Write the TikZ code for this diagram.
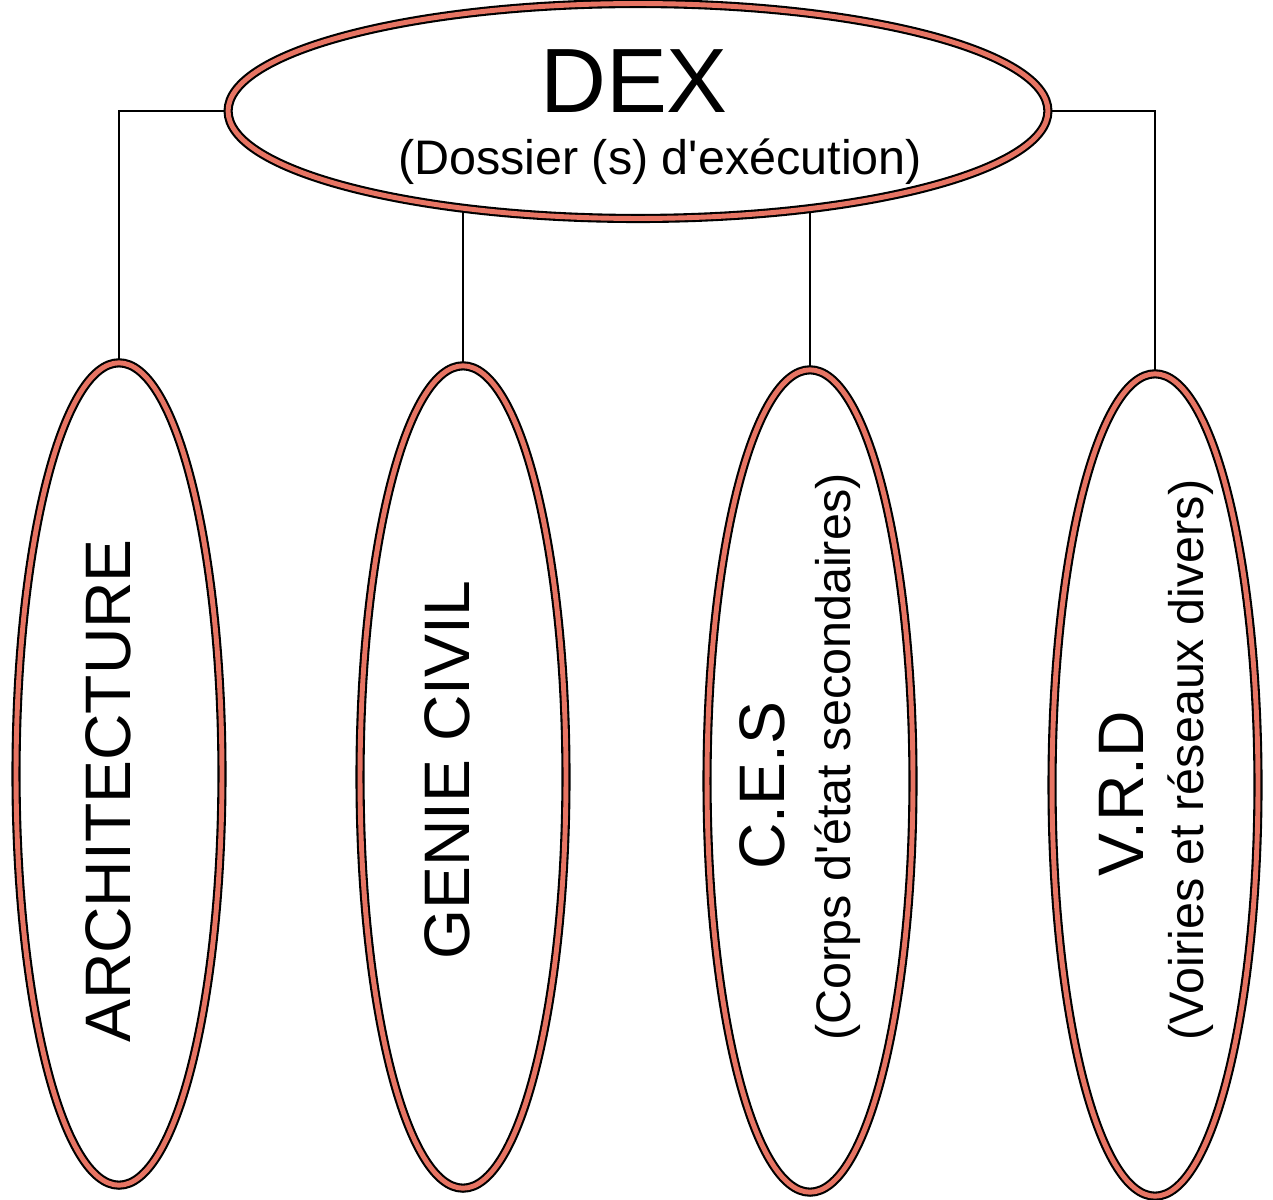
\documentclass[tikz,border=0pt]{standalone}
\usepackage{fontspec}
\newfontfamily\arialfont{Liberation Sans}
\usetikzlibrary{shapes.geometric,backgrounds}
\definecolor{ringred}{RGB}{231,116,99}

\begin{document}
\begin{tikzpicture}[x=0.02cm,y=-0.02cm,
    ring/.style={ellipse,draw=black,line width=1.2pt,double=ringred,double distance=2.8pt,fill=white,inner sep=0pt},
    branch/.style={ring,minimum width=4.12cm,minimum height=16.45cm},
    bigtxt/.style={rotate=90,inner sep=0pt,font=\arialfont\fontsize{36.6}{40}\selectfont},
    subtxt/.style={inner sep=0pt,font=\arialfont\fontsize{27.6}{31}\selectfont},
    link/.style={line width=0.9pt}]
            \useasboundingbox (0,0) rectangle (1273,1199);

            % top
            \node[ring,minimum width=16.4cm,minimum height=4.3cm] (dex) at (638,111) {};
            \node[inner sep=0pt,font=\arialfont\fontsize{52}{56}\selectfont] (dextxt) at (634,81) {DEX};
            \node[subtxt] (dexsub) at (660,162) {(Dossier (s) d'exécution)};

            % branches
            \node[branch] (archi) at (119,774) {};
            \node[branch] (genie) at (463,777) {};
            \node[branch] (ces) at (810,781) {};
            \node[branch] (vrd) at (1155,785) {};

            \node[bigtxt] (architxt) at (108,791) {ARCHITECTURE};
            \node[bigtxt] (genietxt) at (447,770) {GENIE CIVIL};
            \node[bigtxt] (cestxt) at (762,786) {C.E.S};
            \node[subtxt,rotate=90] (cessub) at (838,757) {(Corps d'état secondaires)};
            \node[bigtxt] (vrdtxt) at (1121,794) {V.R.D};
            \node[subtxt,rotate=90] (vrdsub) at (1191,760) {(Voiries et réseaux divers)};

            \begin{scope}[on background layer]
            \draw[link] (dex.west) -| (archi.north);
            \draw[link] (dex.east) -| (vrd.north);
            \draw[link] (genie.north) -- (genie.north |- dex.center);
            \draw[link] (ces.north) -- (ces.north |- dex.center);
            \end{scope}
        \end{tikzpicture}
\end{document}
